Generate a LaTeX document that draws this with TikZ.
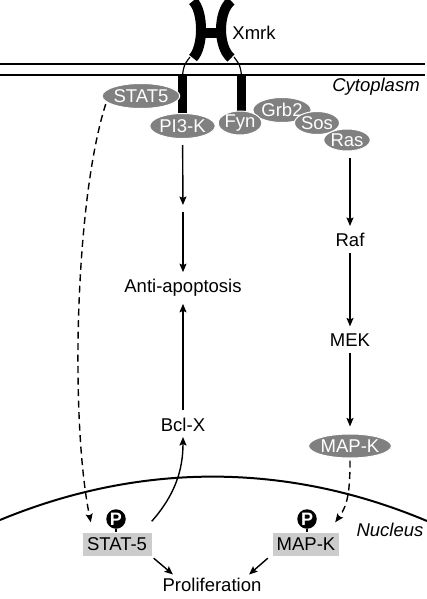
\documentclass[tikz,border=0pt]{standalone}
\usepackage{fontspec}
\setmainfont{Liberation Sans}
\usetikzlibrary{shapes.geometric,arrows.meta}
\pgfdeclarelayer{bg}
\pgfsetlayers{bg,main}
\definecolor{protgray}{RGB}{128,128,128}
\definecolor{boxgray}{RGB}{204,204,204}
\tikzset{
    every node/.style={inner sep=0pt, font=\fontsize{18.5}{22}\selectfont}
}
\tikzset{
    prot/.style={ellipse, fill=protgray, draw=white, line width=1pt, text=white},
    nucbox/.style={rectangle, fill=boxgray},
    phos/.style={circle, fill=black, text=white, minimum size=19.5pt,
        font=\fontsize{18}{18}\selectfont\bfseries},
    place/.style={font=\fontsize{18.5}{22}\selectfont\itshape},
    arr/.style={-{Stealth[length=8.5pt,width=7pt,inset=1.5pt]}, line width=1.4pt,
        shorten <=6pt, shorten >=7pt},
    dasharr/.style={arr, dash pattern=on 7pt off 4.5pt, shorten <=2pt, shorten >=0pt}
}

\begin{document}
\begin{tikzpicture}[x=1pt, y=-1pt]
    \useasboundingbox (0,0) rectangle (427,599);

    % membrane and nucleus
    \draw[line width=2.2pt] (0,64) -- (425,64);
    \draw[line width=2pt] (0,75) -- (425,75);
    \draw[line width=2pt] (0,520) .. controls (140,462) and (287,462) .. (427,521);

    % receptor
    \draw[line width=10pt] (193,1) .. controls (203.7,12) and (203.7,47) .. (193,58);
    \draw[line width=10pt] (231,1) .. controls (217.7,12) and (217.7,47) .. (231,58);
    \draw[line width=10pt] (201,33) -- (221,33);
    \draw[line width=1.2pt] (190,57) .. controls (184,65) .. (182.5,75);
    \draw[line width=1.2pt] (234,57) .. controls (240,65) .. (241.5,75);

    \node (xmrk) at (254, 33) {Xmrk};
    \node (cyto) [place] at (376, 87) {Cytoplasm};
    \node (nuc) [place] at (390, 530) {Nucleus};

    \node (stat5) [prot, minimum width=65pt, minimum height=25pt] at (141, 96) {STAT5};
    \node (pi3k) [prot, minimum width=64pt, minimum height=25pt] at (182.5, 126) {PI3-K};
    \node (grb2) [prot, minimum width=58pt, minimum height=25pt] at (282, 110) {Grb2};
    \node (fyn) [prot, minimum width=43pt, minimum height=24pt] at (240, 123) {Fyn};
    \node (sos) [prot, minimum width=42pt, minimum height=23pt] at (317, 123) {Sos};
    \node (ras) [prot, minimum width=44pt, minimum height=22pt] at (347, 140) {Ras};

    \node (raf) at (350, 240) {Raf};
    \node (mek) at (350, 340) {MEK};
    \node (mapk) [prot, minimum width=76pt, minimum height=24pt] at (350, 446) {MAP-K};
    \node (antiap) at (183, 288) {Anti-apoptosis};
    \node (bclx) at (183, 425) {Bcl-X};
    \coordinate (mid) at (183, 208.5);

    \node (stat5n) [nucbox, minimum width=69pt, minimum height=23pt] at (117, 544) {STAT-5};
    \node (mapkn) [nucbox, minimum width=66pt, minimum height=23pt] at (306, 544) {MAP-K};
    \node (p1) [phos] at (116, 519) {P};
    \node (p2) [phos] at (307, 519) {P};
    \node (prolif) at (212, 585) {Proliferation};

    \begin{pgfonlayer}{bg}
        \draw[line width=9pt] (182.5,75) -- (pi3k.north);
        \draw[line width=9pt] (241.5,75) -- (241.5,112);
        \draw[arr, shorten >=3.5pt] (pi3k) -- (mid);
        \draw[arr, shorten <=3.5pt] (mid) -- (antiap);
        \draw[arr, shorten <=8pt, shorten >=7pt] (bclx) -- (antiap);
        \draw[arr] (raf |- ras.south) -- (raf);
        \draw[arr] (raf) -- (mek);
        \draw[arr] (mek) -- (mapk);
        \draw[dasharr] (stat5.190) .. controls (75,200) and (70,420) .. ([xshift=8.5pt,yshift=10pt]stat5n.north west);
        \draw[dasharr] (mapk.south) .. controls (350,490) and (348,505) .. ([xshift=-4pt,yshift=10pt]mapkn.north east);
        \draw[arr, shorten <=0pt, shorten >=5pt] ([yshift=11pt]stat5n.north east) .. controls (175,495) and (183,470) .. (bclx.south);
        \draw[line width=1.5pt] (p1.south) -- (p1.south |- stat5n.north);
        \draw[line width=1.5pt] (p2.south) -- (p2.south |- mapkn.north);
        \draw[arr, shorten <=0pt, shorten >=0pt] ([xshift=2pt,yshift=-2.5pt]stat5n.south east) -- ([xshift=-39pt,yshift=3.5pt]prolif.north);
        \draw[arr, shorten <=0pt, shorten >=0pt] ([xshift=-5pt,yshift=-2.5pt]mapkn.south west) -- ([xshift=37pt,yshift=3.5pt]prolif.north);
    \end{pgfonlayer}
\end{tikzpicture}
\end{document}
